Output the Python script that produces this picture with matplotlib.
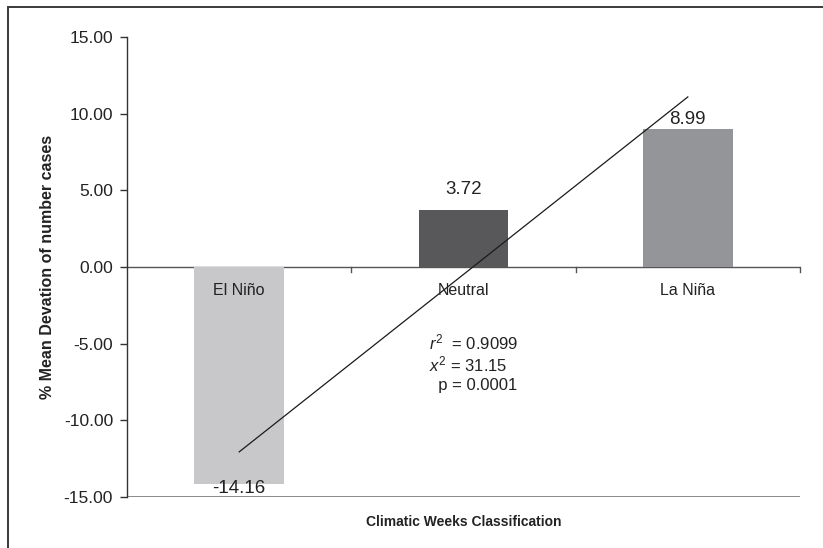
import numpy as np
import matplotlib
matplotlib.use("Agg")
import matplotlib.pyplot as plt
from matplotlib.patches import Rectangle

plt.rcParams['font.family'] = ['Liberation Sans', 'DejaVu Sans']
plt.rcParams['mathtext.fontset'] = 'custom'
plt.rcParams['mathtext.rm'] = 'Liberation Sans'
plt.rcParams['mathtext.it'] = 'Liberation Sans:italic'

# data
categories = ['El Niño', 'Neutral', 'La Niña']
values = [-14.16, 3.72, 8.99]
bar_colors = ['#c8c8ca', '#58585a', '#939598']
yticks = [-15, -10, -5, 0, 5, 10, 15]
stats = [r'$r^2$  = 0.9099', r'$x^2$ = 31.15', '  p = 0.0001']
label_gap = [0.25, 0.75, 0.1]   # gap between bar end and its value label

fig = plt.figure(figsize=(8.23, 5.48), dpi=100)
# outer frame (cut at right and bottom like the scan)
fig.patches.append(Rectangle((8 / 823, -0.05), 1.2, 1 - 7 / 548 + 0.05,
                             transform=fig.transFigure, fill=False,
                             edgecolor='#3a3a3a', linewidth=1.4))

ax = fig.add_axes([127 / 823, 1 - 497 / 548, 673 / 823, 460 / 548])
x = np.arange(len(categories))
ax.bar(x, values, width=0.4, color=bar_colors, zorder=2)

# linear trend line
slope, icpt = np.polyfit(x, values, 1)
xl = np.array([x[0], x[-1]])
ax.plot(xl, slope * xl + icpt, color='#1a1a1a', linewidth=0.9, zorder=3)

ax.set_xlim(-0.5, 2.5)
ax.set_ylim(-15, 15)
ax.set_yticks(yticks)
ax.set_yticklabels([f'{v:.2f}' for v in yticks], fontsize=12.5, color='#222222')
ax.tick_params(axis='y', direction='out', length=5, width=1, color='#333333', pad=5)
ax.set_xticks([])

for s in ['top', 'right', 'bottom']:
    ax.spines[s].set_visible(False)
ax.spines['left'].set_color('#333333')
ax.spines['left'].set_linewidth(1)

# bottom gray line at -15 and zero line with category ticks
ax.axhline(-15, color='#808080', linewidth=2, zorder=1)
ax.axhline(0, color='#555555', linewidth=1, zorder=1)
for xt in [0.5, 1.5, 2.5]:
    ax.plot([xt, xt], [0, -0.3], color='#555555', linewidth=1, clip_on=False)

# category labels just below the zero line
for xi, c in zip(x, categories):
    ax.text(xi, -1.05, c, ha='center', va='top', fontsize=11.5, color='#222222', zorder=4)

# value labels
for xi, v, g in zip(x, values, label_gap):
    if v >= 0:
        ax.text(xi, v + g, f'{v:.2f}', ha='center', va='bottom', fontsize=13.5, color='#222222')
    else:
        ax.text(xi, v + g, f'{v:.2f}', ha='center', va='top', fontsize=13.5, color='#222222')

# statistics
for i, s in enumerate(stats):
    ax.text(0.845, -4.95 - 1.38 * i, s, ha='left', va='center', fontsize=12, color='#222222')

fig.text(48 / 823, 1 - 267 / 548, '% Mean Devation of number cases', rotation=90,
         ha='center', va='center', fontsize=11.5, fontweight='bold', color='#222222')
fig.text(464 / 823, 1 - 522 / 548, 'Climatic Weeks Classification',
         ha='center', va='center', fontsize=10, fontweight='bold', color='#222222')

fig.savefig('out.png', dpi=100)
